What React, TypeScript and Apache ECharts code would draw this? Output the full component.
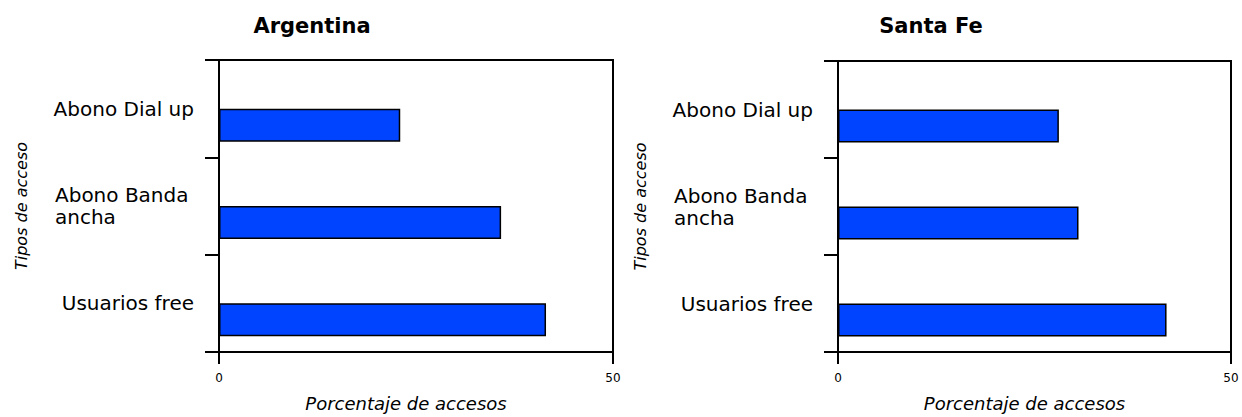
import React, { useEffect, useRef } from "react";
import * as echarts from "echarts";

const categories = ["Abono Dial up", "Abono Banda\nancha", "Usuarios free"];
const argentinaValues = [23.0, 35.8, 41.5];
const santaFeValues = [28.1, 30.6, 41.8];
const placeholder = ["-", "-", "-"];
const chartTitles = ["Argentina", "Santa Fe"];
const xMin = 0;
const xMax = 50;
const xAxisName = "Porcentaje de accesos";
const yAxisName = "Tipos de acceso";

const FONT = "DejaVu Sans";

export default function App() {
  const ref = useRef<HTMLDivElement>(null);
  useEffect(() => {
    document.body.style.margin = "0";
    const chart = echarts.init(ref.current!, null, { renderer: "svg" });
    const grids = [
      { left: 219, right: 629, top: 60, bottom: 64 },
      { left: 838, right: 11, top: 61, bottom: 60 },
    ];
    const xAxes = grids.map((_, i) => ({
      type: "value",
      gridIndex: i,
      min: xMin,
      max: xMax,
      interval: xMax - xMin,
      splitLine: { show: false },
      axisLine: { show: true, lineStyle: { color: "#000", width: 2 } },
      axisTick: { show: true, length: 12, lineStyle: { color: "#000", width: 2 } },
      axisLabel: { color: "#000", fontSize: 12, fontFamily: FONT, margin: 20 },
      name: xAxisName,
      nameLocation: "middle",
      nameGap: 42,
      nameTextStyle: {
        color: "#000",
        fontSize: 18,
        fontStyle: "italic",
        fontFamily: FONT,
        padding: [0, 20, 0, 0],
      },
    }));
    const yAxes = grids.map((_, i) => ({
      type: "category",
      gridIndex: i,
      data: categories,
      inverse: true,
      axisLine: { show: true, lineStyle: { color: "#000", width: 2 } },
      axisTick: { show: true, length: 14, lineStyle: { color: "#000", width: 2 } },
      axisLabel: {
        color: "#000",
        fontSize: 20,
        fontFamily: FONT,
        margin: 25,
        formatter: (v: string) =>
          v.includes("\n") ? v.split("\n").map((s) => `{l|${s}}`).join("\n") : v,
        rich: {
          l: { width: 139, align: "left", fontSize: 20, fontFamily: FONT, color: "#000", lineHeight: 22 },
        },
      },
      name: yAxisName,
      nameLocation: "middle",
      nameGap: 190,
      nameTextStyle: { color: "#000", fontSize: 16, fontStyle: "italic", fontFamily: FONT },
    }));
    const barStyle = { color: "#0044ff", borderColor: "#000", borderWidth: 1.5 };
    const series: any[] = [];
    [argentinaValues, santaFeValues].forEach((vals, i) => {
      series.push({
        type: "bar",
        xAxisIndex: i,
        yAxisIndex: i,
        data: placeholder,
        barWidth: 33,
        barGap: "0%",
        itemStyle: { color: "transparent", borderWidth: 0 },
        silent: true,
      });
      series.push({
        type: "bar",
        xAxisIndex: i,
        yAxisIndex: i,
        data: vals,
        barWidth: 33,
        barGap: "0%",
        itemStyle: barStyle,
      });
    });
    const titleStyle = { fontSize: 21, fontWeight: "bold", fontFamily: FONT, color: "#000" };
    chart.setOption({
      animation: false,
      backgroundColor: "#fff",
      title: [
        { text: chartTitles[0], left: 312, top: 15, padding: 0, textAlign: "center", textStyle: titleStyle },
        { text: chartTitles[1], left: 931, top: 15, padding: 0, textAlign: "center", textStyle: titleStyle },
      ],
      grid: grids.map((g) => ({ ...g, show: true, borderColor: "#000", borderWidth: 2, backgroundColor: "transparent" })),
      xAxis: xAxes,
      yAxis: yAxes,
      series,
    });
    return () => chart.dispose();
  }, []);
  return <div ref={ref} style={{ width: 1242, height: 417 }} />;
}
